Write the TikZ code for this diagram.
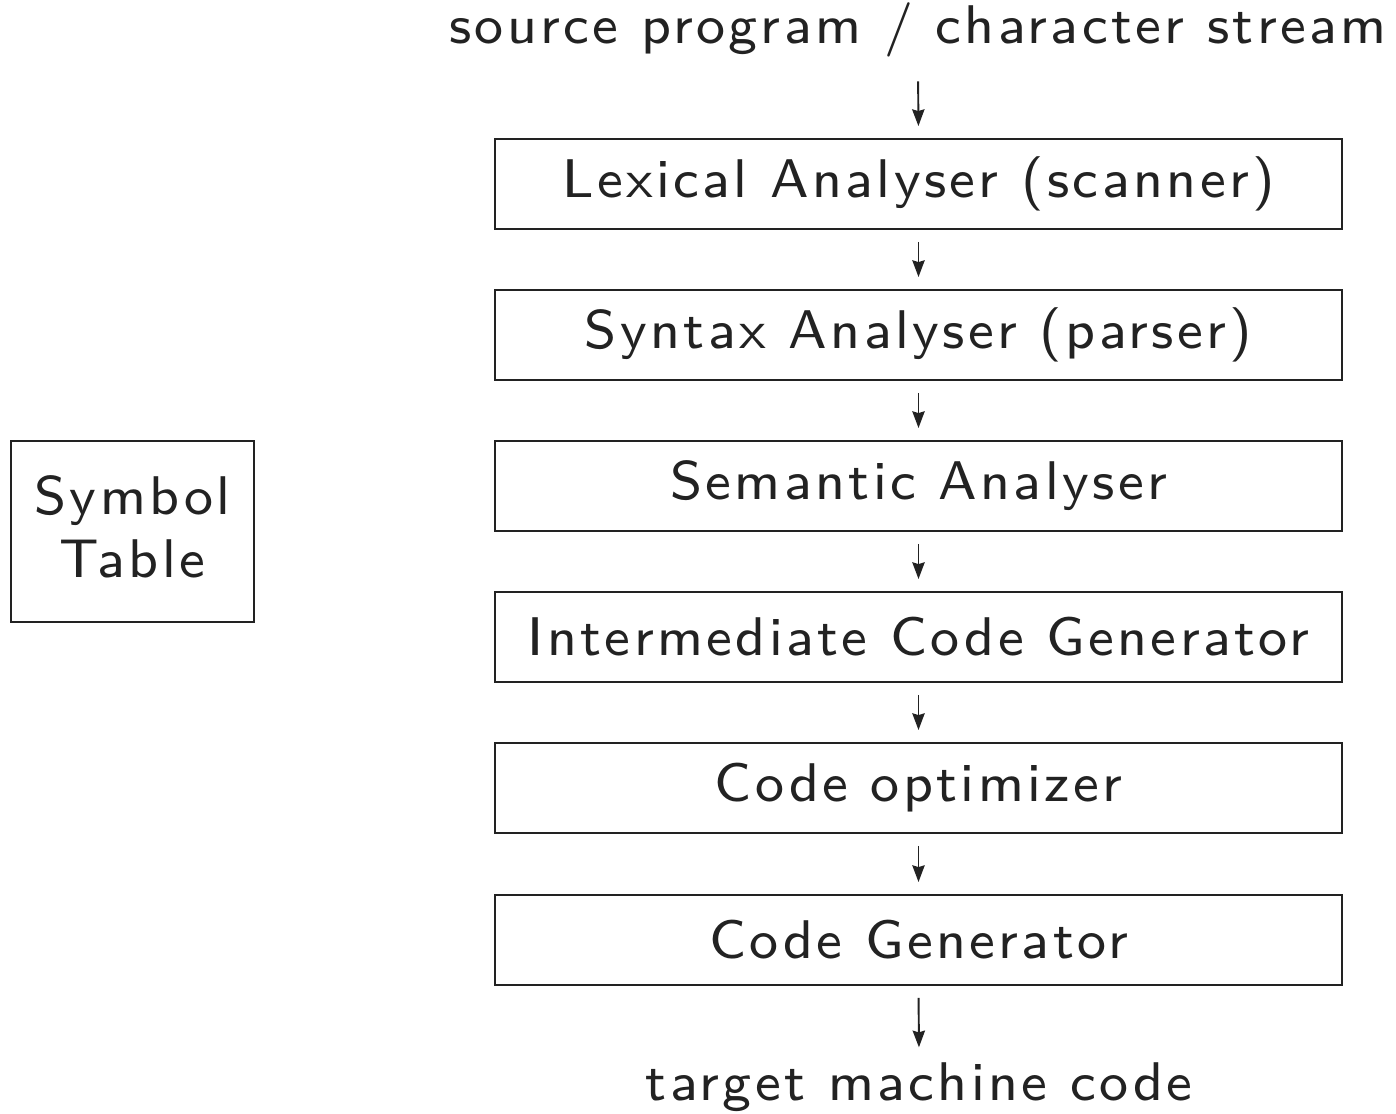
\documentclass[tikz,border=0pt]{standalone}
\usepackage{fontspec}
\newfontfamily\diagfont{lmsans8-regular.otf}[LetterSpace=6.3]
\usetikzlibrary{arrows.meta}
\definecolor{ink}{HTML}{222222}
\begin{document}
\begin{tikzpicture}[x=0.02cm,y=-0.02cm,
  every node/.style={font=\diagfont\fontsize{31}{38}\selectfont, text=ink},
  stage/.style={draw=ink, line width=1.1pt, minimum width=847*0.02cm, minimum height=90*0.02cm, inner sep=0pt},
  arr/.style={draw=ink, line width=1.1pt, -{Stealth[length=9.5pt,width=7pt,inset=1pt]}}]
\useasboundingbox (0,0) rectangle (1396,1114);
\node (src) at (918,30) {source program / character stream};
\node[stage] (b1) at (918.5,184) {Lexical Analyser (scanner)};
\node[stage] (b2) at (918.5,335) {Syntax Analyser (parser)};
\node[stage] (b3) at (918.5,486) {Semantic Analyser};
\node[stage] (b4) at (918.5,637) {Intermediate Code Generator};
\node[stage] (b5) at (918.5,788) {Code optimizer};
\node[stage] (b6) at (918.5,940) {Code Generator};
\node (tgt) at (919,1087) {target machine code};
\node[draw=ink, line width=1.1pt, minimum width=243*0.02cm, minimum height=181*0.02cm, inner sep=0pt] (sym) at (132.5,531.5) {};
\node[align=center, inner sep=0pt] (symtext) at (132.5,526.5) {Symbol\\[-2pt]Table};
\draw[arr, shorten <=0.36cm, shorten >=0.24cm] (src.south) -- (b1.north);
\draw[arr, shorten <=0.24cm, shorten >=0.24cm] (b1) -- (b2);
\draw[arr, shorten <=0.24cm, shorten >=0.24cm] (b2) -- (b3);
\draw[arr, shorten <=0.24cm, shorten >=0.24cm] (b3) -- (b4);
\draw[arr, shorten <=0.24cm, shorten >=0.24cm] (b4) -- (b5);
\draw[arr, shorten <=0.24cm, shorten >=0.24cm] (b5) -- (b6);
\draw[arr, shorten <=0.24cm, shorten >=0.18cm] (b6.south) -- (tgt.north);
\end{tikzpicture}
\end{document}
